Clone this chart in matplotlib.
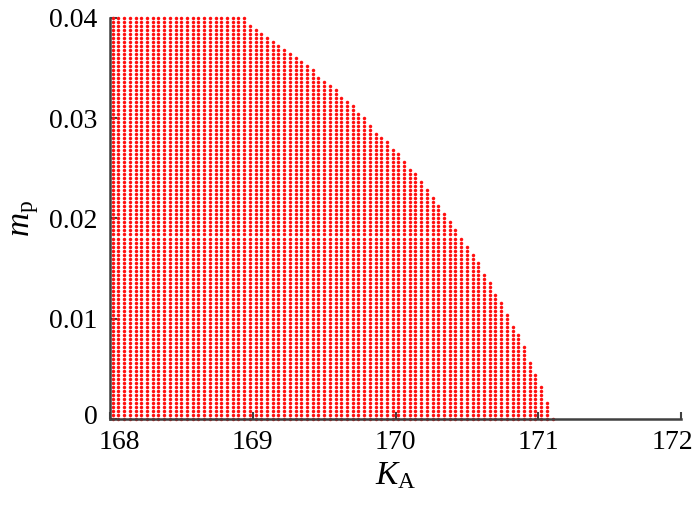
import numpy as np
import matplotlib
matplotlib.use("Agg")
import matplotlib.pyplot as plt
import matplotlib.transforms as mtrans

plt.rcParams['font.family'] = ['Liberation Serif', 'DejaVu Serif']
plt.rcParams['mathtext.fontset'] = 'custom'
plt.rcParams['mathtext.rm'] = 'Liberation Serif'
plt.rcParams['mathtext.it'] = 'Liberation Serif:italic'

# Stable region: K_A sampled every 0.04, m_p every 0.0004
ka_start = 168.02
ka_step = 0.04
mp_step = 0.0004
# highest stable m_p for each K_A column (in units of mp_step)
top_rows = [100] * 24 + [
    98, 97, 96, 95, 94, 93, 92, 91, 90, 89,
    88, 87, 85, 84, 83, 82, 80, 79, 78, 76,
    75, 73, 71, 70, 69, 67, 66, 64, 62, 61,
    59, 57, 55, 53, 51, 49, 47, 45, 43, 41,
    39, 36, 34, 31, 29, 26, 23, 21, 18, 14,
    11, 8, 4, 0]

xs, ys = [], []
for i, top in enumerate(top_rows):
    for j in range(top + 1):
        xs.append(ka_start + i * ka_step)
        ys.append(j * mp_step)

fig = plt.figure(figsize=(7.0, 5.08), dpi=100)
ax = fig.add_axes([0.157, 0.175, 0.816, 0.79])
ax.plot(xs, ys, 'o', color='#ff1010', ms=2.5, mew=0, clip_on=False)

ax.set_xlim(168, 172)
ax.set_ylim(0, 0.04)
ax.set_xticks([168, 169, 170, 171, 172])
ax.set_yticks([0, 0.01, 0.02, 0.03, 0.04])
ax.set_yticklabels(['0', '0.01', '0.02', '0.03', '0.04'])
ax.tick_params(direction='in', length=5, width=1.5, color='#404040',
               labelsize=20)
ax.tick_params(axis='x', pad=8)
ax.tick_params(axis='y', pad=9)
for s in ['top', 'right']:
    ax.spines[s].set_visible(False)
for s in ['left', 'bottom']:
    ax.spines[s].set_color('#404040')
    ax.spines[s].set_linewidth(1.8)

# end labels nudged inwards, like the original
xl = ax.get_xticklabels()
xl[0].set_transform(xl[0].get_transform() + mtrans.ScaledTranslation(0.09, 0, fig.dpi_scale_trans))
xl[-1].set_transform(xl[-1].get_transform() + mtrans.ScaledTranslation(-0.09, 0, fig.dpi_scale_trans))
yl = ax.get_yticklabels()
yl[0].set_transform(yl[0].get_transform() + mtrans.ScaledTranslation(0, 0.05, fig.dpi_scale_trans))

ax.set_xlabel(r'$K_{\mathrm{A}}$', fontsize=24, labelpad=4)
ax.set_ylabel(r'$m_{\mathrm{p}}$', fontsize=24, labelpad=6)

fig.savefig('out.png', dpi=100)
